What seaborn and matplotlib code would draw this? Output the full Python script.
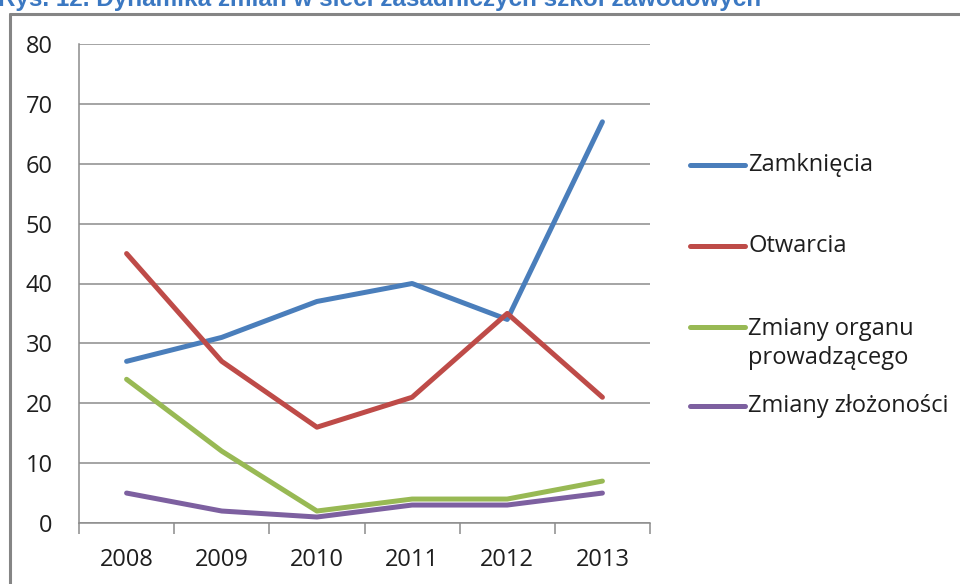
import numpy as np
import pandas as pd
import matplotlib.pyplot as plt
import seaborn as sns
from matplotlib.lines import Line2D

# ----------------------------------------------------------------
# Data: liczba zmian w sieci szkół, 2008-2013
# ----------------------------------------------------------------
years = [2008, 2009, 2010, 2011, 2012, 2013]
zamkniecia = [27, 31, 37, 40, 34, 67]
otwarcia = [45, 27, 16, 21, 35, 21]
zmiany_organu = [24, 12, 2, 4, 4, 7]
zmiany_zlozonosci = [5, 2, 1, 3, 3, 5]

series_names = ["Zamknięcia", "Otwarcia", "Zmiany organu\nprowadzącego", "Zmiany złożoności"]
series_values = [zamkniecia, otwarcia, zmiany_organu, zmiany_zlozonosci]
colors = ["#4A7EBB", "#BE4B48", "#98B954", "#7D60A0"]
y_ticks = [0, 10, 20, 30, 40, 50, 60, 70, 80]

df = pd.DataFrame({
    "rok": np.tile(years, len(series_names)),
    "wartosc": np.concatenate(series_values),
    "seria": np.repeat(series_names, len(years)),
})

sns.set_theme(style="white")
plt.rcParams["font.family"] = ["Open Sans", "DejaVu Sans"]

W, H = 960, 584
fig = plt.figure(figsize=(W / 100, H / 100), dpi=100)
ax = fig.add_axes([79 / W, 1 - 523 / H, (650 - 79) / W, (523 - 44) / H])

sns.lineplot(
    data=df, x="rok", y="wartosc", hue="seria",
    hue_order=series_names, palette=colors,
    linewidth=3.6, legend=False, ax=ax,
)
for ln in ax.lines:
    ln.set_solid_capstyle("round")
    ln.set_solid_joinstyle("round")

# axes styling (Excel 2007 look)
grid_c = "#8C8C8C"
txt_c = "#1E1E1E"
ax.set_xlim(years[0] - 0.5, years[-1] + 0.5)
ax.set_ylim(0, 80)
ax.set_yticks(y_ticks)
ax.yaxis.grid(True, color=grid_c, linewidth=1.1)
ax.set_axisbelow(True)
ax.set_xticks(years)
ax.set_xticks(np.arange(years[0] - 0.5, years[-1] + 1.0, 1.0), minor=True)
ax.tick_params(axis="x", which="major", length=0, pad=18, labelsize=17, labelcolor=txt_c)
ax.tick_params(axis="x", which="minor", length=8, width=1.1, color=grid_c, direction="out", bottom=True)
ax.tick_params(axis="y", length=8, width=1.1, color=grid_c, direction="out", pad=11, labelsize=17,
               labelcolor=txt_c)
for s in ["top", "right"]:
    ax.spines[s].set_visible(False)
for s in ["left", "bottom"]:
    ax.spines[s].set_color(grid_c)
    ax.spines[s].set_linewidth(1.1)
ax.set_xlabel("")
ax.set_ylabel("")

# legend drawn by hand so the handle sits on the first text line
leg_y = [165, 246, 327, 406]
for name, col, yy in zip(series_names, colors, leg_y):
    fy = 1 - yy / H
    fig.add_artist(Line2D([690 / W, 745 / W], [fy, fy], color=col, linewidth=3.6,
                          solid_capstyle="round"))
    if "\n" in name:
        fig.text(748 / W, 1 - (yy - 10) / H, name, fontsize=17, color=txt_c,
                 va="top", ha="left", linespacing=1.25)
    else:
        fig.text(748 / W, fy, name, fontsize=17, color=txt_c, va="center", ha="left")

# caption (clipped at the top edge, as in the source) and frame
fig.text(-0.002, 1 - 6 / H, "Rys. 12. Dynamika zmian w sieci zasadniczych szkół zawodowych",
         fontsize=17.5, fontweight="bold", color="#3B78C2", family=["Liberation Sans", "DejaVu Sans"],
         ha="left", va="baseline")
fig.add_artist(Line2D([10 / W, 10 / W], [-0.1, 1 - 14 / H], color="#858585", linewidth=2.2))
fig.add_artist(Line2D([10 / W, 1.1], [1 - 14 / H, 1 - 14 / H], color="#858585", linewidth=2.2))

fig.savefig("out.png", dpi=100)
